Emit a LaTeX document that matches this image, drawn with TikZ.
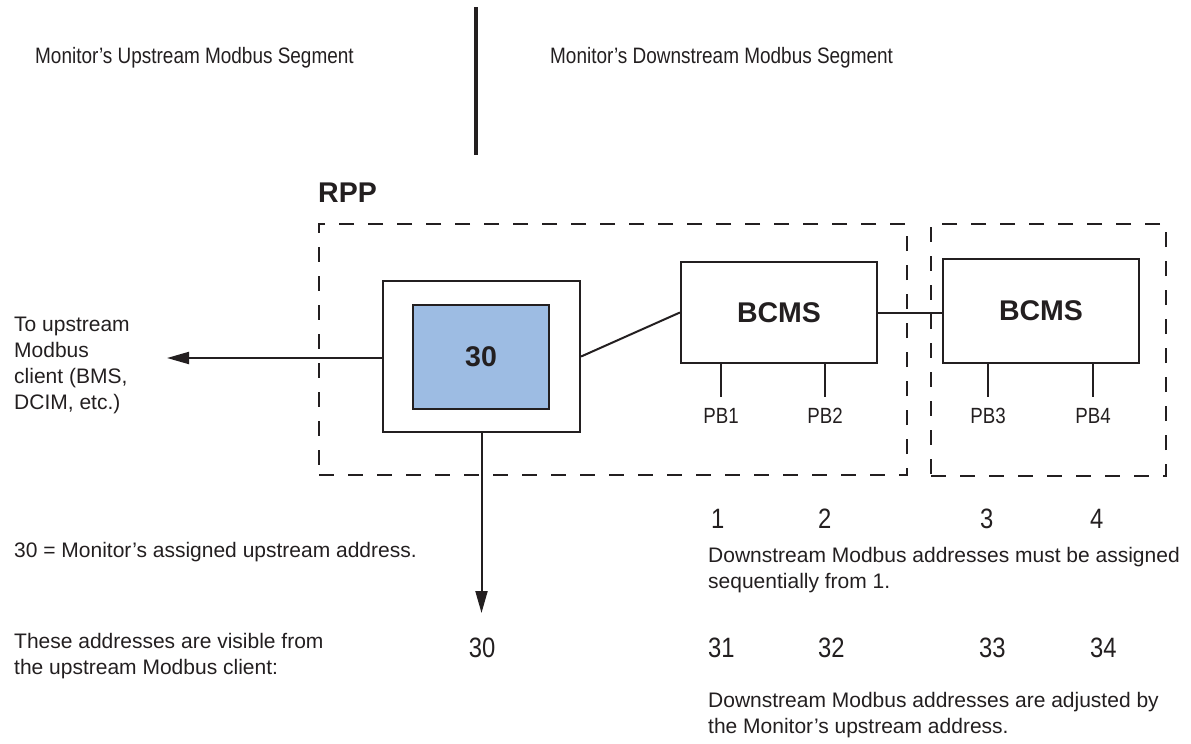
\documentclass[tikz,border=0pt]{standalone}
\usepackage{fontspec}
\setmainfont{Liberation Sans}
\newfontfamily\condfont{Liberation Sans}[FakeStretch=0.85]
\usetikzlibrary{arrows.meta}
\definecolor{ink}{RGB}{35,31,32}
\definecolor{monblue}{RGB}{157,188,227}
\tikzset{
  body/.style={font=\fontsize{21}{26}\selectfont, inner sep=0pt, align=left, text=ink},
  heading/.style={font=\condfont\fontsize{22.3}{26}\selectfont, inner sep=0pt, text=ink},
  numlbl/.style={font=\condfont\fontsize{28}{30}\selectfont, inner sep=0pt, text=ink},
  pblabel/.style={font=\condfont\fontsize{22}{24}\selectfont, inner sep=0pt, text=ink},
  boldlbl/.style={font=\bfseries\fontsize{28.5}{30}\selectfont, text=ink},
  devbox/.style={draw=ink, line width=2.2pt, inner sep=0pt, boldlbl},
  zone/.style={draw=ink, line width=2pt, dash pattern=on 15pt off 14pt, inner sep=0pt},
  wire/.style={draw=ink, line width=2pt},
  arrowwire/.style={wire, -{Triangle[length=22pt,width=12pt]}},
}
\begin{document}
\begin{tikzpicture}[x=1pt,y=-1pt]
\useasboundingbox (0,0) rectangle (1191,744);

% divider
\coordinate (divtop) at (476,7);
\coordinate (divbot) at (476,155);
\draw[ink, line width=4.5pt] (divtop) -- (divbot);

% headings
\node[heading, anchor=base west] (hup) at (35,63) {Monitor’s Upstream Modbus Segment};
\node[heading, anchor=base west] (hdown) at (550,63) {Monitor’s Downstream Modbus Segment};

% RPP label
\node[boldlbl, inner sep=0pt, anchor=base west] (rpplbl) at (318,202) {RPP};

% dashed zones
\node[zone, minimum width=588pt, minimum height=251pt] (rpp) at (613,349.5) {};
\node[zone, minimum width=235pt, minimum height=252pt] (zone2) at (1048.5,350) {};

% monitor
\node[devbox, minimum width=197pt, minimum height=151pt] (monOuter) at (481.5,356.5) {};
\node[devbox, fill=monblue, minimum width=136pt, minimum height=104pt] (monInner) at (481,357) {30};

% BCMS boxes
\node[devbox, minimum width=196pt, minimum height=101pt] (bcms1) at (779,312.5) {BCMS};
\node[devbox, minimum width=196pt, minimum height=104pt] (bcms2) at (1041,311) {BCMS};

% connectors
\draw[wire] (monOuter.east) -- (bcms1.west);
\draw[wire] (bcms1.east) -- (bcms1.east -| bcms2.west);

\coordinate (upEnd) at (167,358);
\draw[arrowwire] (monOuter.west |- upEnd) -- (upEnd);
\coordinate (downEnd) at (482,613);
\draw[arrowwire] (monOuter.south) -- (monOuter.south |- downEnd);

% PB branches
\coordinate (pb1end) at (721,397);
\coordinate (pb2end) at (825,397);
\coordinate (pb3end) at (988,397);
\coordinate (pb4end) at (1093,397);
\draw[wire] (pb1end |- bcms1.south) -- (pb1end);
\draw[wire] (pb2end |- bcms1.south) -- (pb2end);
\draw[wire] (pb3end |- bcms2.south) -- (pb3end);
\draw[wire] (pb4end |- bcms2.south) -- (pb4end);
\node[pblabel, anchor=base] (pb1) at (721,423) {PB1};
\node[pblabel, anchor=base] (pb2) at (825,423) {PB2};
\node[pblabel, anchor=base] (pb3) at (988,423) {PB3};
\node[pblabel, anchor=base] (pb4) at (1093,423) {PB4};

% left texts
\node[body, anchor=west] (clientlbl) at (14,365.5) {To upstream\\Modbus\\client (BMS,\\DCIM, etc.)};
\node[body, anchor=base west] (assigned) at (14,557.5) {30 = Monitor’s assigned upstream address.};
\node[body, anchor=west] (visible) at (14,656.5) {These addresses are visible from\\the upstream Modbus client:};

% downstream numbers
\node[numlbl, anchor=base west] (n1) at (711,528) {1};
\node[numlbl, anchor=base west] (n2) at (818,528) {2};
\node[numlbl, anchor=base west] (n3) at (980,528) {3};
\node[numlbl, anchor=base west] (n4) at (1090,528) {4};
\node[body, anchor=west] (seqtext) at (708,570.5) {Downstream Modbus addresses must be assigned\\sequentially from 1.};

% visible addresses
\node[numlbl, anchor=base] (v30) at (482,657) {30};
\node[numlbl, anchor=base west] (v31) at (708,657) {31};
\node[numlbl, anchor=base west] (v32) at (818,657) {32};
\node[numlbl, anchor=base west] (v33) at (979,657) {33};
\node[numlbl, anchor=base west] (v34) at (1090,657) {34};
\node[body, anchor=west] (adjtext) at (708,715.5) {Downstream Modbus addresses are adjusted by\\the Monitor’s upstream address.};
\end{tikzpicture}
\end{document}
